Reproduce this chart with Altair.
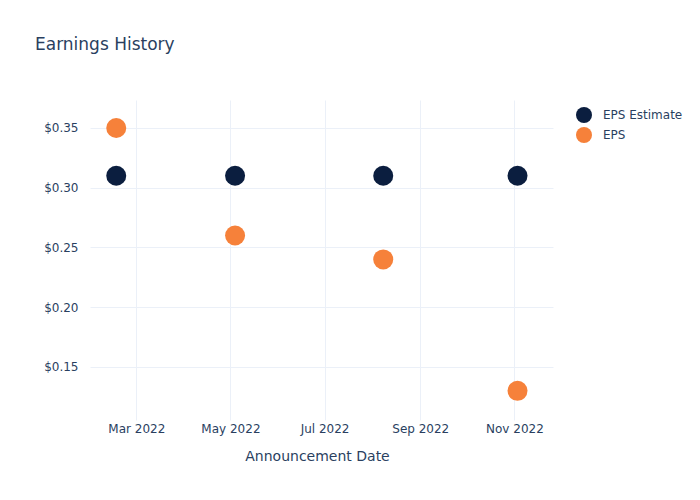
import altair as alt
import pandas as pd

dates = ["2022-02-16", "2022-05-04", "2022-08-08", "2022-11-03"]
eps_estimate = [0.31, 0.31, 0.31, 0.31]
eps_actual = [0.35, 0.26, 0.24, 0.13]
series_names = ["EPS Estimate", "EPS"]
colors = ["#0b1e3f", "#f6813a"]

rows = []
for d, e in zip(dates, eps_estimate):
    rows.append({"date": d, "value": e, "series": "EPS Estimate"})
for d, v in zip(dates, eps_actual):
    rows.append({"date": d, "value": v, "series": "EPS"})
df = pd.DataFrame(rows)

font = "DejaVu Sans"
text_color = "#2a3f5f"
grid_color = "#ebf0f8"

tick_dates = [alt.DateTime(year=2022, month=m, date=1, utc=True) for m in [3, 5, 7, 9, 11]]

chart = alt.Chart(df).mark_circle(size=400, opacity=1).encode(
    x=alt.X(
        "date:T",
        scale=alt.Scale(
            type="utc",
            domain=[alt.DateTime(year=2022, month=1, date=30, utc=True),
                    alt.DateTime(year=2022, month=11, date=26, utc=True)],
        ),
        axis=alt.Axis(
            title="Announcement Date",
            values=tick_dates,
            labelExpr="utcFormat(datum.value, '%b %Y')",
            domain=False,
            ticks=False,
            labelPadding=3,
            titlePadding=15,
            titleX=227,
            gridColor=grid_color,
            labelColor=text_color,
            titleColor=text_color,
            labelFont=font,
            titleFont=font,
            labelFontSize=12,
            titleFontSize=14,
            titleFontWeight="normal",
        ),
    ),
    y=alt.Y(
        "value:Q",
        scale=alt.Scale(domain=[0.1056, 0.3734], nice=False, zero=False),
        axis=alt.Axis(
            title=None,
            values=[0.15, 0.2, 0.25, 0.3, 0.35],
            format="$.2f",
            domain=False,
            ticks=False,
            labelPadding=12,
            gridColor=grid_color,
            labelColor=text_color,
            labelFont=font,
            labelFontSize=12,
        ),
    ),
    color=alt.Color(
        "series:N",
        scale=alt.Scale(domain=series_names, range=colors),
        sort=series_names,
        legend=alt.Legend(
            title=None,
            orient="none",
            legendX=485,
            legendY=6,
            padding=0,
            symbolType="circle",
            symbolSize=256,
            symbolOpacity=1,
            rowPadding=3,
            labelOffset=10,
            labelColor=text_color,
            labelFont=font,
            labelFontSize=12,
        ),
    ),
    order=alt.Order("series:N", sort="descending"),
).properties(
    width=463,
    height=320,
    background="white",
    autosize=alt.AutoSizeParams(type="none"),
    padding={"left": 90, "top": 100, "right": 147, "bottom": 80},
    title=alt.TitleParams(
        "Earnings History",
        anchor="start",
        frame="group",
        dx=-55,
        offset=38,
        baseline="middle",
        font=font,
        fontSize=17,
        fontWeight="normal",
        color=text_color,
    ),
).configure_view(strokeWidth=0, stroke=None)

chart.save("out.html", embed_options={"renderer": "svg", "actions": False})
